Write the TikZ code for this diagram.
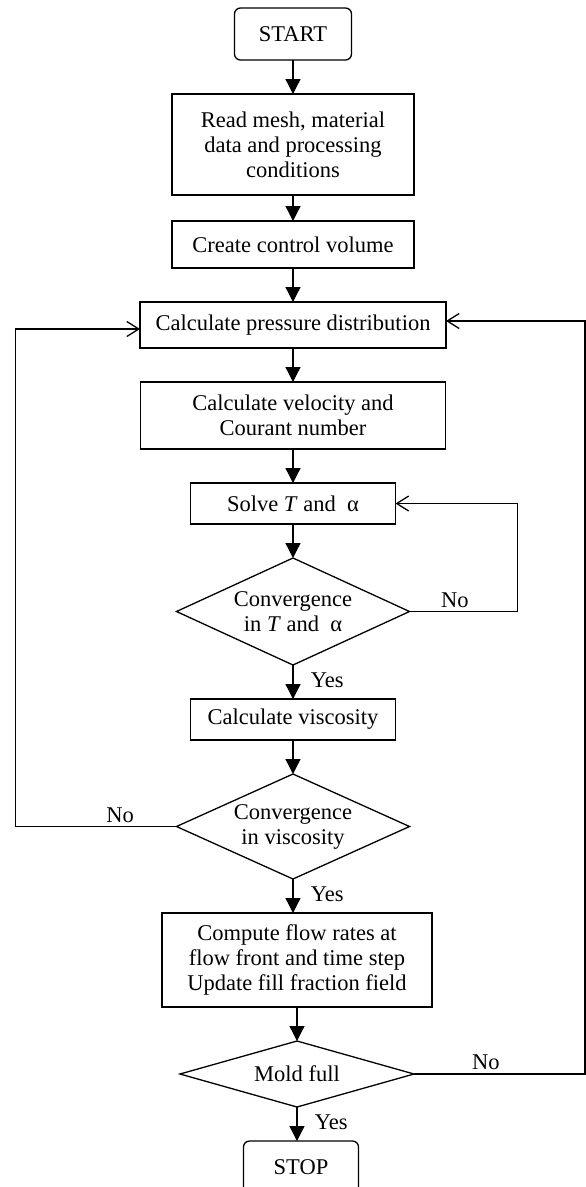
\documentclass[tikz,border=0pt]{standalone}
\usepackage{fontspec}
\setmainfont{Liberation Serif}
\usetikzlibrary{shapes.geometric,arrows.meta,positioning}

\begin{document}
\begin{tikzpicture}[->,>={Triangle[length=15pt,width=15pt]},auto,node distance=34pt,
                    x=1pt,y=-1pt,line width=1.3pt]
  \tikzstyle{every node}=[font=\fontsize{22.5}{25}\selectfont]
  \tikzstyle{box}=[rectangle,draw=black,fill=white,align=center,outer sep=0pt]
  \tikzstyle{term}=[box,rounded corners=6pt]
  \tikzstyle{test}=[diamond,draw=black,fill=white,align=center,inner sep=0pt,outer sep=0pt,aspect=2]
  \tikzstyle{back}=[-{Straight Barb[length=12pt,width=15pt]}]
  \tikzstyle{yes}=[right=14pt,pos=0.45]

  \useasboundingbox (0,0) rectangle (586,1187);

  \node[term,minimum width=117pt,minimum height=52pt] (start) at (293,34) {START};
  \node[box,minimum width=242pt,minimum height=101pt] (read) [below=of start] {Read mesh, material\\data and processing\\conditions};
  \node[box,minimum width=242pt,minimum height=47pt] (cv) [below=26pt of read] {Create control volume};
  \node[box,minimum width=306pt,minimum height=46pt] (press) [below=of cv] {Calculate pressure distribution};
  \node[box,minimum width=305pt,minimum height=67pt] (vel) [below=of press] {Calculate velocity and\\Courant number};
  \node[box,minimum width=205pt,minimum height=41pt] (solve) [below=of vel] {Solve \textit{T} and\enspace α};
  \node[test,minimum width=233pt,minimum height=107pt] (convTa) [below=of solve] {Convergence\\in \textit{T} and\enspace α};
  \node[box,minimum width=205pt,minimum height=41pt] (visc) [below=of convTa] {Calculate viscosity};
  \node[test,minimum width=233pt,minimum height=105pt] (convvisc) [below=of visc] {Convergence\\in viscosity};
  \node[box,minimum width=270pt,minimum height=94pt] (flow) [below=of convvisc,xshift=4pt] {Compute flow rates at\\flow front and time step\\Update fill fraction field};
  \node[test,minimum width=234pt,minimum height=66pt] (full) [below=of flow] {Mold full};
  \node[term,minimum width=115pt,minimum height=52pt] (stop) [below=of full,xshift=4pt] {STOP};

  \path (start) edge (read)
        (read) edge (cv)
        (cv) edge (press)
        (press) edge (vel)
        (vel) edge (solve)
        (solve) edge (convTa)
        (convTa) edge node[yes] {Yes} (visc)
        (visc) edge (convvisc)
        (convvisc.south) edge node[yes] {Yes} (convvisc.south |- flow.north)
        (flow) edge (full)
        (full.south) edge node[yes] {Yes} (full.south |- stop.north);

  % loops back
  \draw[back] (convTa.east) -- ++(108,0) node[pos=0.42,above] {No} |- (solve.east);
  \draw[back] (convvisc.west) -- ++(-161,0) node[pos=0.35,above] {No} |- ([yshift=-4pt]press.west);
  \draw[back] (full.east) -- ++(171,0) node[pos=0.42,above] {No} |- ([yshift=4pt]press.east);
\end{tikzpicture}
\end{document}
